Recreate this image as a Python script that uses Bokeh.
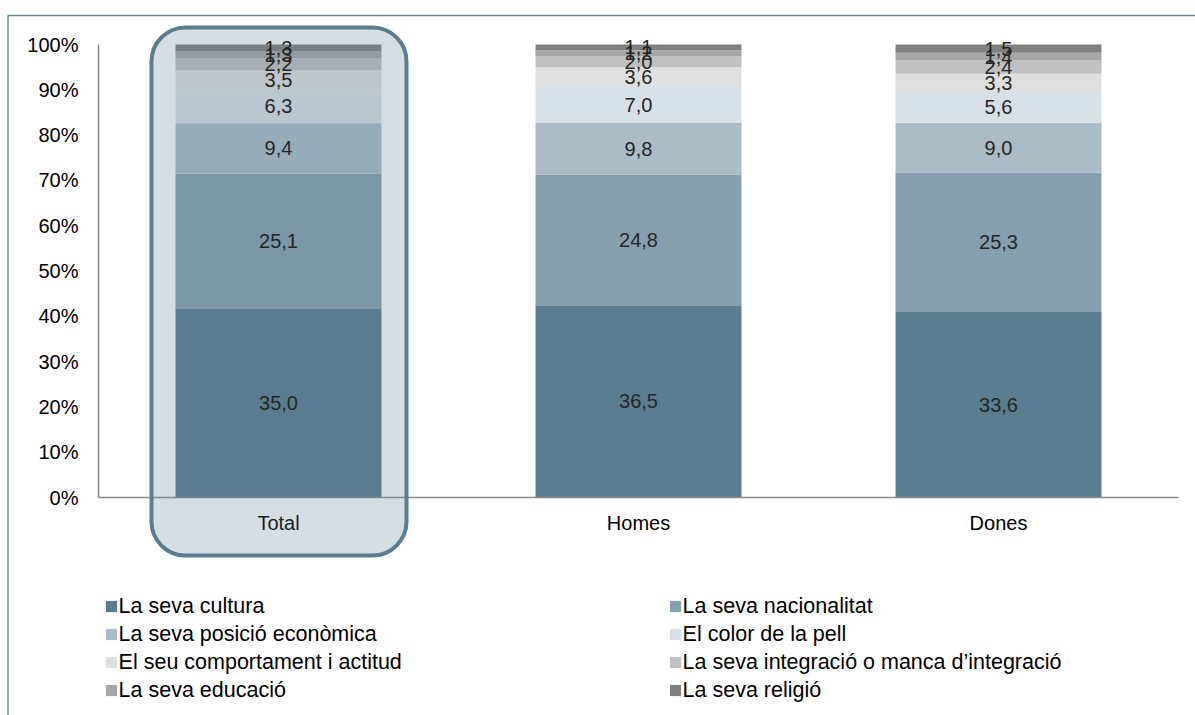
import numpy as np
from bokeh.plotting import figure
from bokeh.models import (ColumnDataSource, Range1d, FixedTicker,
                          NumeralTickFormatter, BoxAnnotation, Legend, LegendItem)
from bokeh.embed import file_html
from bokeh.resources import INLINE
from bokeh.core.properties import value

# ---------------- data ----------------
categories = ["Total", "Homes", "Dones"]
series_names = [
    "La seva cultura",
    "La seva nacionalitat",
    "La seva posició econòmica",
    "El color de la pell",
    "El seu comportament i actitud",
    "La seva integració o manca d\u2019integració",
    "La seva educació",
    "La seva religió",
]
cultura = [35.0, 36.5, 33.6]
nacionalitat = [25.1, 24.8, 25.3]
posicio = [9.4, 9.8, 9.0]
color_pell = [6.3, 7.0, 5.6]
comportament = [3.5, 3.6, 3.3]
integracio = [2.2, 2.0, 2.4]
educacio = [1.3, 1.2, 1.4]
religio = [1.3, 1.1, 1.5]
y_ticks = [0.0, 0.1, 0.2, 0.3, 0.4, 0.5, 0.6, 0.7, 0.8, 0.9, 1.0]

colors = ["#5B7D90", "#869FAD", "#ABBCC7", "#D7E0E6",
          "#DFDFDF", "#C0C0C0", "#A6A6A6", "#808080"]

series = [cultura, nacionalitat, posicio, color_pell,
          comportament, integracio, educacio, religio]

# ---------------- build sources ----------------
vals = np.array(series, dtype=float)          # (8, 3)
totals = vals.sum(axis=0)
norm = vals / totals
xpos = np.arange(len(categories)) + 0.5
keys = [f"s{i}" for i in range(len(series))]
src = ColumnDataSource(dict(x=xpos, cat=categories,
                            **{k: norm[i] for i, k in enumerate(keys)}))

cum_top = np.cumsum(norm, axis=0)
cum_bot = cum_top - norm
lab_x, lab_y, lab_t = [], [], []
for i in range(len(series)):
    for j in range(len(categories)):
        lab_x.append(xpos[j])
        lab_y.append((cum_top[i, j] + cum_bot[i, j]) / 2)
        lab_t.append(f"{vals[i, j]:.1f}".replace(".", ","))
lab_src = ColumnDataSource(dict(x=lab_x, y=lab_y, t=lab_t))

FONT = "Liberation Sans"
TXT = "#262626"
FS = "20px"
FS_LEG = "21.5px"
FRAME_COL = "#5B7D90"

# canvas 1195x715 ; plot area: x 98..1178 px (3 slots of 360 px), y 497..44 px
W, H = 1195, 715
PX_X = 360.0
PX_Y = 453.0
x0_px, y0_px = 98.0, 497.0
p = figure(x_range=Range1d(-x0_px / PX_X, (W - x0_px) / PX_X),
           y_range=Range1d(-(H - y0_px) / PX_Y, 1 + 44.0 / PX_Y),
           width=W, height=H, output_backend="svg", toolbar_location=None,
           min_border_left=0, min_border_right=0,
           min_border_top=0, min_border_bottom=0)
p.outline_line_color = None
p.grid.visible = False
p.background_fill_color = "white"
p.border_fill_color = "white"

rs = p.vbar_stack(keys, x="x", width=0.572, color=colors, source=src, line_width=0)

# highlight around "Total" (screen px from canvas bottom-left)
hl = BoxAnnotation(left=151, right=406, bottom=H - 555, top=H - 27,
                   left_units="screen", right_units="screen",
                   top_units="screen", bottom_units="screen",
                   fill_color=FRAME_COL, fill_alpha=0.25,
                   line_color=FRAME_COL, line_alpha=1.0, line_width=4,
                   border_radius=34)
p.add_layout(hl)

# outer chart frame (top + left edges visible)
fr = BoxAnnotation(left=7.5, right=W + 50, bottom=-50, top=H - 15,
                   left_units="screen", right_units="screen",
                   top_units="screen", bottom_units="screen",
                   fill_alpha=0, line_color="#6A8799", line_alpha=1.0,
                   line_width=1.5)
p.add_layout(fr)

p.text(x="x", y="y", text="t", source=lab_src, text_align="center",
       text_baseline="middle", text_color=TXT, text_font=value(FONT),
       text_font_size=FS, level="overlay")

# axes (fixed at the data origin)
p.yaxis.ticker = FixedTicker(ticks=y_ticks)
p.yaxis.formatter = NumeralTickFormatter(format="0%")
p.yaxis.fixed_location = 0
p.yaxis.bounds = (0, 1)
p.xaxis.ticker = FixedTicker(ticks=list(xpos))
p.xaxis.major_label_overrides = {float(x): c for x, c in zip(xpos, categories)}
p.xaxis.fixed_location = 0
p.xaxis.bounds = (0, len(categories))
for ax in (p.xaxis[0], p.yaxis[0]):
    ax.axis_line_color = "#8C8C8C"
    ax.axis_line_width = 1.5
    ax.major_tick_line_color = None
    ax.minor_tick_line_color = None
    ax.major_tick_out = 0
    ax.major_tick_in = 0
    ax.major_label_text_font = FONT
    ax.major_label_text_font_size = FS
    ax.major_label_text_color = "#000000"
p.yaxis.major_label_standoff = 20
p.xaxis.major_label_standoff = 14

# legend: two columns
items = [LegendItem(label=n, renderers=[r]) for n, r in zip(series_names, rs)]
leg_kw = dict(glyph_width=14, glyph_height=14, label_standoff=1,
              label_text_font=FONT, label_text_font_size=FS_LEG,
              label_text_color="#000000", label_height=25, spacing=3,
              padding=0, margin=0, border_line_alpha=0,
              background_fill_alpha=0, inactive_fill_alpha=0)
leg1 = Legend(items=items[0::2], location=(103.6, 12.5), **leg_kw)
leg2 = Legend(items=items[1::2], location=(667.6, 12.5), **leg_kw)
p.add_layout(leg1)
p.add_layout(leg2)

open("out.html", "w").write(file_html(p, INLINE))
